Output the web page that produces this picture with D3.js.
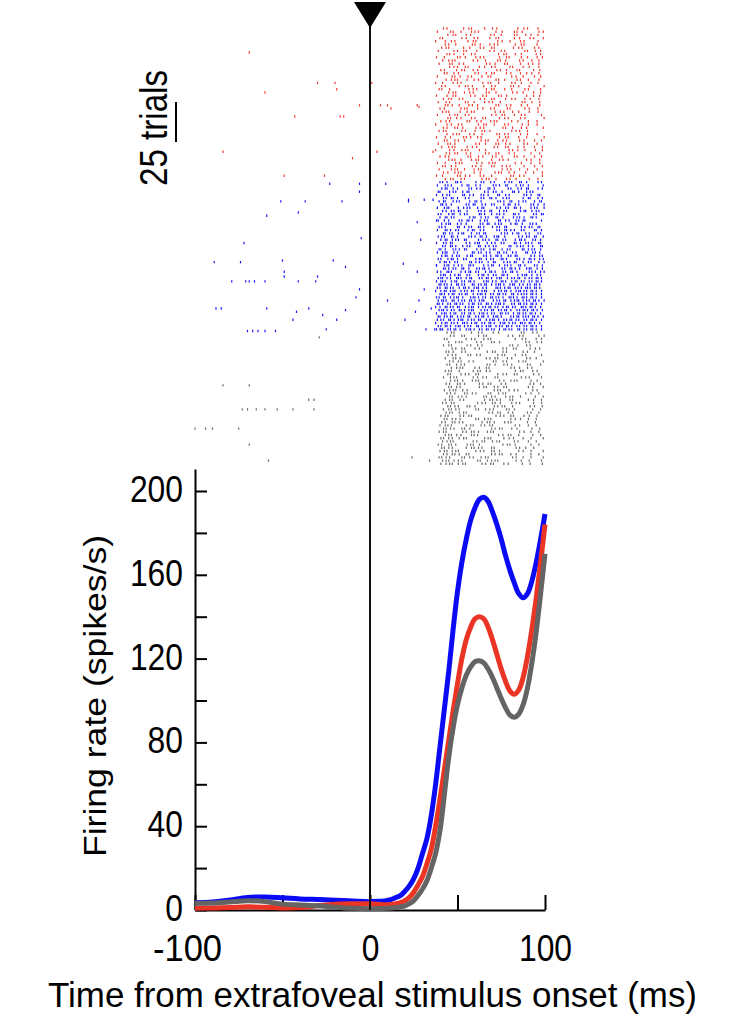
<!DOCTYPE html>
<html>
<head>
<meta charset="utf-8">
<script src="https://d3js.org/d3.v7.min.js"></script>
<style>
  html, body { margin: 0; padding: 0; background: #fff; }
  svg { display: block; font-family: "Liberation Sans", Arial, sans-serif; }
</style>
</head>
<body>
<svg id="chart" width="743" height="1024"></svg>
<script>
const rateTime = [-100,-90,-80,-70,-60,-50,-40,-30,-20,-10,0,10,
  15,17.5,20,22.5,25,27.5,30,32.5,35,37.5,40,42.5,45,47.5,50,52.5,55,57.5,
  60,62.5,65,67.5,70,72.5,75,77.5,80,82.5,85,87.5,90,92.5,95,97.5,100];
const blueRate = [3.5,3.8,4.8,6,6.2,5.8,5.3,5,4.7,4.3,4,4.5,
  6,7,9,11.5,15,20,27,34,45,60,78,96,114,134,152,166,177,186,
  192,196,197,195,190,184,177,169,162,156,151,149,151,157,166,177,189];
const redRate = [0.8,1,1.2,1.5,1.3,1,1.2,2,2.8,3,3,2.5,
  3,3.5,4.5,6,8.5,12,16,22,29,40,53,67,81,95,108,120,129,135,
  139,140,139,135,129,122,115,109,104.5,103,105,111,121,134,149,166,184];
const grayRate = [3.2,3.3,3.8,4.4,4,2.8,2.4,2,1.3,0.8,0.6,0.8,
  1.2,1.5,2,3,4.5,7,10,14,20,27,38,55,73,87,98,106,112,116,
  118.5,119,118,115,111,106,101,96.5,93,92,93.5,98,106,118,133,151,170];

// Raster, early spikes: [time ms, trial within its group]
const redSparse = [[-69,15],[-60,40],[-30,34],[-20,34],[-19,38],[1,34],[-6,48],[6,48],[10,48],[12,50],
  [27,48],[28,49],[-43,55],[-17,55],[-15,55],[-84,77],[4,77],[36,77],[-10,81],[-49,92],[-26,92]];
const blueSparse = [[-23,1],[-6,1],[9,1],[-6,6],[22,11],[-51,12],[-37,12],[-16,12],[22,12],[31,11],[36,11],
  [-41,19],[-59,21],[27,25],[-5,35],[29,36],[-72,38],[-89,50],[-74,50],[-50,49],[-21,49],[19,51],
  [38,52],[-14,53],[-49,56],[27,56],[-49,59],[-30,59],[-79,62],[-71,62],[-69,62],[-66,62],[-60,62],
  [-41,62],[-31,62],[-6,67],[31,67],[-8,72],[10,74],[28,74],[-88,79],[-85,79],[-59,79],[-35,79],
  [35,79],[-42,81],[-14,80],[26,81],[-27,83],[-44,86],[-19,86],[20,86],[32,92],[37,92],[40,92],
  [-25,92],[-70,93],[-67,93],[-64,93],[-60,93],[-54,93]];
const graySparse = [[-29,3],[-84,33],[-69,33],[-35,42],[-32,42],[-73,48],[-70,48],[-65,48],[-60,48],
  [-53,48],[-44,48],[-32,48],[-100,60],[-94,60],[-90,60],[-75,60],[-69,70],[24,78],[-58,80],[34,80]];

// Raster, response spikes: one row per second trial; each base-36 char is the
// gap to the next spike in 0.5 ms steps, counted from denseStart
const denseStart = 36;
const redRows = ["c4j63f95o74c8","5f39c44k7e36j58","h63c5n48f3a689","83m594e73i6c4b9","3b74f63p59c4ga",
  "e48j36b54k73fc","a53h7c493m64e59","6i473cf584n3966","g35b94r63a7h58","49f36c54i83e7b66",
  "b743l59e36g4a89","7c385q46b3f9577","j5493d684h3c7b9","94e63a5m47c3g76","d385j4963e5b7687",
  "5h3694c73o58d77","f643b85k37e49ca","38c54p639f47b88","a4g735d94i36ch5","739m54b63c8f4e9",
  "i53a64f38j57c88","4c73h594e36n878","c6394k583d74b6a9","694i37c549p3898","e358b46l395c7e9",
  "85j43c694f3h5aa","b43d853o64a7caa","5e6394q573b84j8","h375c493g64e5m6","964k385b43h7cab",
  "3d584j639c4g7ab","c4936f54m38a6j6","753i4b836p549k4","g743c59h364e8bb","4a6f3584l73c9k6",
  "d3947j53b64f5c8c","6b35o47c385g4bb","a843e65k493b7c96","3g5943d7r468c88","f463a5h483c6jaa",
  "864m395b47e38c8d","i437c53f946l5aa","59c43h6843n7baa","b375j46c3954gc97","7e438b53o64a9bb",
  "c5843f7h4396d9a","47h365c49m375l7","e6394k538c47fab"];
const blueRows = ["835a24h6384c53926d457386485","5934c6285f3472a536h42866485",
  "a4275d364925g38462b53796485","62b43852i4637c25943e6256485","4753f264935b274h35826a46485",
  "c362594e3725843g62953b46485","752943c625j3472853a62496485","9246h3528473b5264e357286485",
  "5832b643952f463725c43866485","b463528d3462953g42753a56485","63942753e248635b24h36276485",
  "86253i42753926c435824f36485","4275c3624953d2648352j466485","a532846g352743b526934e26485",
  "734e2653824a5362h4537296485","592463b5274f3625483c2646485","c25374296352i4365284a356485",
  "643825d346259327g4536286485","95264372e5348263b5249366485","48352g463295473c25634826485",
  "b3624853a26453f274365926485","72593462c53742863e254376485","563284h25364925374b26356485",
  "a42653942d356248352g4636485","63842573b42653924c356246485","852463e2543762a435286396485",
  "4932654823c5427634925b36485","c245372693425f3624583276485","54723b54263852493625e346485",
  "932654283a42563724c53266485","6325472364293524632753426535246","452374263524b325462374253635246",
  "7243562439253426532473264535246","536243752463254b235426345235246","3642532743526432953425632435246",
  "8235426342753246352437254335246","4352643259324536243572346235246","642372543624532b435264325435246",
  "5246352437425362453249352435246","3562435274326534253642537235246","7324536245329435263425734235246",
  "4632542735246324537243652435246","62534264352734256324b3425335246","5436245326435274325634253635246",
  "3742534623542635247325436235246","6352463254372453264352463535246","4526342573246352436524372535246"];
const grayRows = ["g53k84d6q3a5g89e","k493g63p584i6c9e","d3m64a53s84c6g9e","i843h5c36u495e9e",
  "c63i485w36a4h59e","m473c5r483g65d9e","f35a4p6394j58c9e","h54e374k53c84i9e","e935u463b5h47g9e",
  "j46395n384e53k9e","g3854q36a45i3c9e","l643e583p4695h9e","e439g5374t63b59e","h3c5483m6493j69e",
  "c843j564a3r54e9e","k536b43o5843g79e","f4935h463c5s489e","i364m539473p5c9e","d64385v43a64h59e",
  "g45b364e3953n69e","j3745k364c539h9e","e5394o6354b3i69e","b463r54836d54g9e","h354a36m4539k59e",
  "c6354j3854f36l9e","f43853q46395h49e","953e463s5483c69e","d3645i3743n5699e","a48354m635c43j9e",
  "8634h539463q5a9e","c354936p453b6h9e","753j4635a43u589e","e4365c34o5639g9e","9364853l43f65b9e",
  "b543n463953h4c9e","64835d437r536i9e","a354g6354b3p479e","853643k54936m59e","c463583q453a6h9e",
  "7354e364953s489e","b43654i38543l69e","9643753j463c5g9e"];

const trialCounts = [96, 94, 84];
const yTicks = [0,20,40,60,80,100,120,140,160,180,200];
const yLabels = [0,40,80,120,160,200];
const xTicks = [-100,-50,0,50,100];
const xLabels = [-100,0,100];

const svg = d3.select("#chart");

const x = d3.scaleLinear().domain([-100, 100]).range([195, 545]);
const y = d3.scaleLinear().domain([0, 210.5]).range([910, 469]);
const totalTrials = d3.sum(trialCounts);
const yTrial = d3.scaleLinear().domain([0, totalTrials]).range([28.5, 467]);

// --- raster ---
function gapSpikes(row) {
    const out = [];
    let t = denseStart;
    for (const c of row) {
        t += parseInt(c, 36) * 0.5;
        if (t < 100) out.push(t);
    }
    return out;
}

const groups = [
    {rows: redRows, sparse: redSparse, color: "#ef3a2e"},
    {rows: blueRows, sparse: blueSparse, color: "#1414ff"},
    {rows: grayRows, sparse: graySparse, color: "#6c6c6c"}
];

const spikes = [];
let first = 0;
groups.forEach((g, gi) => {
    g.sparse.forEach(([t, tr]) => spikes.push({t, trial: first + tr, color: g.color}));
    g.rows.forEach((row, r) => {
        gapSpikes(row).forEach(t => spikes.push({t, trial: first + 2 * r, color: g.color}));
    });
    first += trialCounts[gi];
});

svg.append("g")
    .selectAll("line")
    .data(spikes)
    .enter()
    .append("line")
    .attr("x1", d => x(d.t))
    .attr("x2", d => x(d.t))
    .attr("y1", d => yTrial(d.trial) - 1.2)
    .attr("y2", d => yTrial(d.trial) + 1.2)
    .attr("stroke", d => d.color)
    .attr("stroke-width", 1.2);

// --- axes ---
const yAxis = d3.axisLeft(y)
    .tickValues(yTicks)
    .tickSizeInner(-12)
    .tickSizeOuter(0)
    .tickPadding(12)
    .tickFormat(d => yLabels.includes(d) ? d : "");

const gy = svg.append("g")
    .attr("transform", "translate(195,0)")
    .call(yAxis);

const xAxis = d3.axisBottom(x)
    .tickValues(xTicks)
    .tickSizeInner(-15)
    .tickSizeOuter(0)
    .tickPadding(25.4)
    .tickFormat(d => xLabels.includes(d) ? d : "");

const gx = svg.append("g")
    .attr("transform", "translate(0,910)")
    .call(xAxis);

[gx, gy].forEach(g => {
    g.attr("font-family", null).attr("font-size", null);
    g.select(".domain").attr("stroke", "#000").attr("stroke-width", 2);
    g.selectAll(".tick line").attr("stroke", "#000").attr("stroke-width", 2);
    g.selectAll(".tick text")
        .attr("fill", "#000")
        .style("font-size", "36px");
});

const labelWidth = d => {
    const s = String(Math.abs(d));
    return s.length * 17.7 + (d < 0 ? 16 : 0);
};

gy.selectAll(".tick text")
    .attr("dy", "0.29em")
    .attr("x", -12)
    .filter(d => yLabels.includes(d))
    .attr("textLength", d => labelWidth(d))
    .attr("lengthAdjust", "spacingAndGlyphs");

gx.selectAll(".tick text")
    .attr("text-anchor", "end")
    .attr("x", d => String(Math.abs(d)).length * 17.7 / 2)
    .filter(d => xLabels.includes(d))
    .attr("textLength", d => labelWidth(d))
    .attr("lengthAdjust", "spacingAndGlyphs");

// --- firing rate curves ---
const line = d3.line()
    .x((d, i) => x(rateTime[i]))
    .y(d => y(d))
    .curve(d3.curveCatmullRom.alpha(0.5));

const curves = [
    {values: blueRate, color: "#0a0af5"},
    {values: redRate, color: "#ea3524"},
    {values: grayRate, color: "#646464"}
];

svg.append("g")
    .selectAll("path")
    .data(curves)
    .enter()
    .append("path")
    .attr("d", d => line(d.values))
    .attr("fill", "none")
    .attr("stroke", d => d.color)
    .attr("stroke-width", 5)
    .attr("stroke-linejoin", "round");

// --- stimulus onset marker ---
svg.append("line")
    .attr("x1", x(0)).attr("x2", x(0))
    .attr("y1", 26).attr("y2", 910)
    .attr("stroke", "#111")
    .attr("stroke-width", 2);

svg.append("path")
    .attr("d", `M${x(0) - 16},2 L${x(0) + 16},2 L${x(0)},28 Z`)
    .attr("fill", "#000");

// --- trial scale bar ---
const barBottom = 142;
svg.append("line")
    .attr("x1", 176).attr("x2", 176)
    .attr("y1", barBottom - (yTrial(25) - yTrial(0)))
    .attr("y2", barBottom)
    .attr("stroke", "#000")
    .attr("stroke-width", 2);

svg.append("text")
    .attr("transform", "translate(167,128) rotate(-90)")
    .attr("text-anchor", "middle")
    .attr("font-size", 38)
    .attr("textLength", 116)
    .attr("lengthAdjust", "spacingAndGlyphs")
    .text("25 trials");

// --- axis titles ---
svg.append("text")
    .attr("transform", "translate(106,696) rotate(-90)")
    .attr("text-anchor", "middle")
    .attr("font-size", 32)
    .attr("textLength", 322)
    .attr("lengthAdjust", "spacingAndGlyphs")
    .text("Firing rate (spikes/s)");

svg.append("text")
    .attr("x", 48)
    .attr("y", 1007)
    .attr("font-size", 35)
    .attr("textLength", 649)
    .attr("lengthAdjust", "spacingAndGlyphs")
    .text("Time from extrafoveal stimulus onset (ms)");
</script>
</body>
</html>
